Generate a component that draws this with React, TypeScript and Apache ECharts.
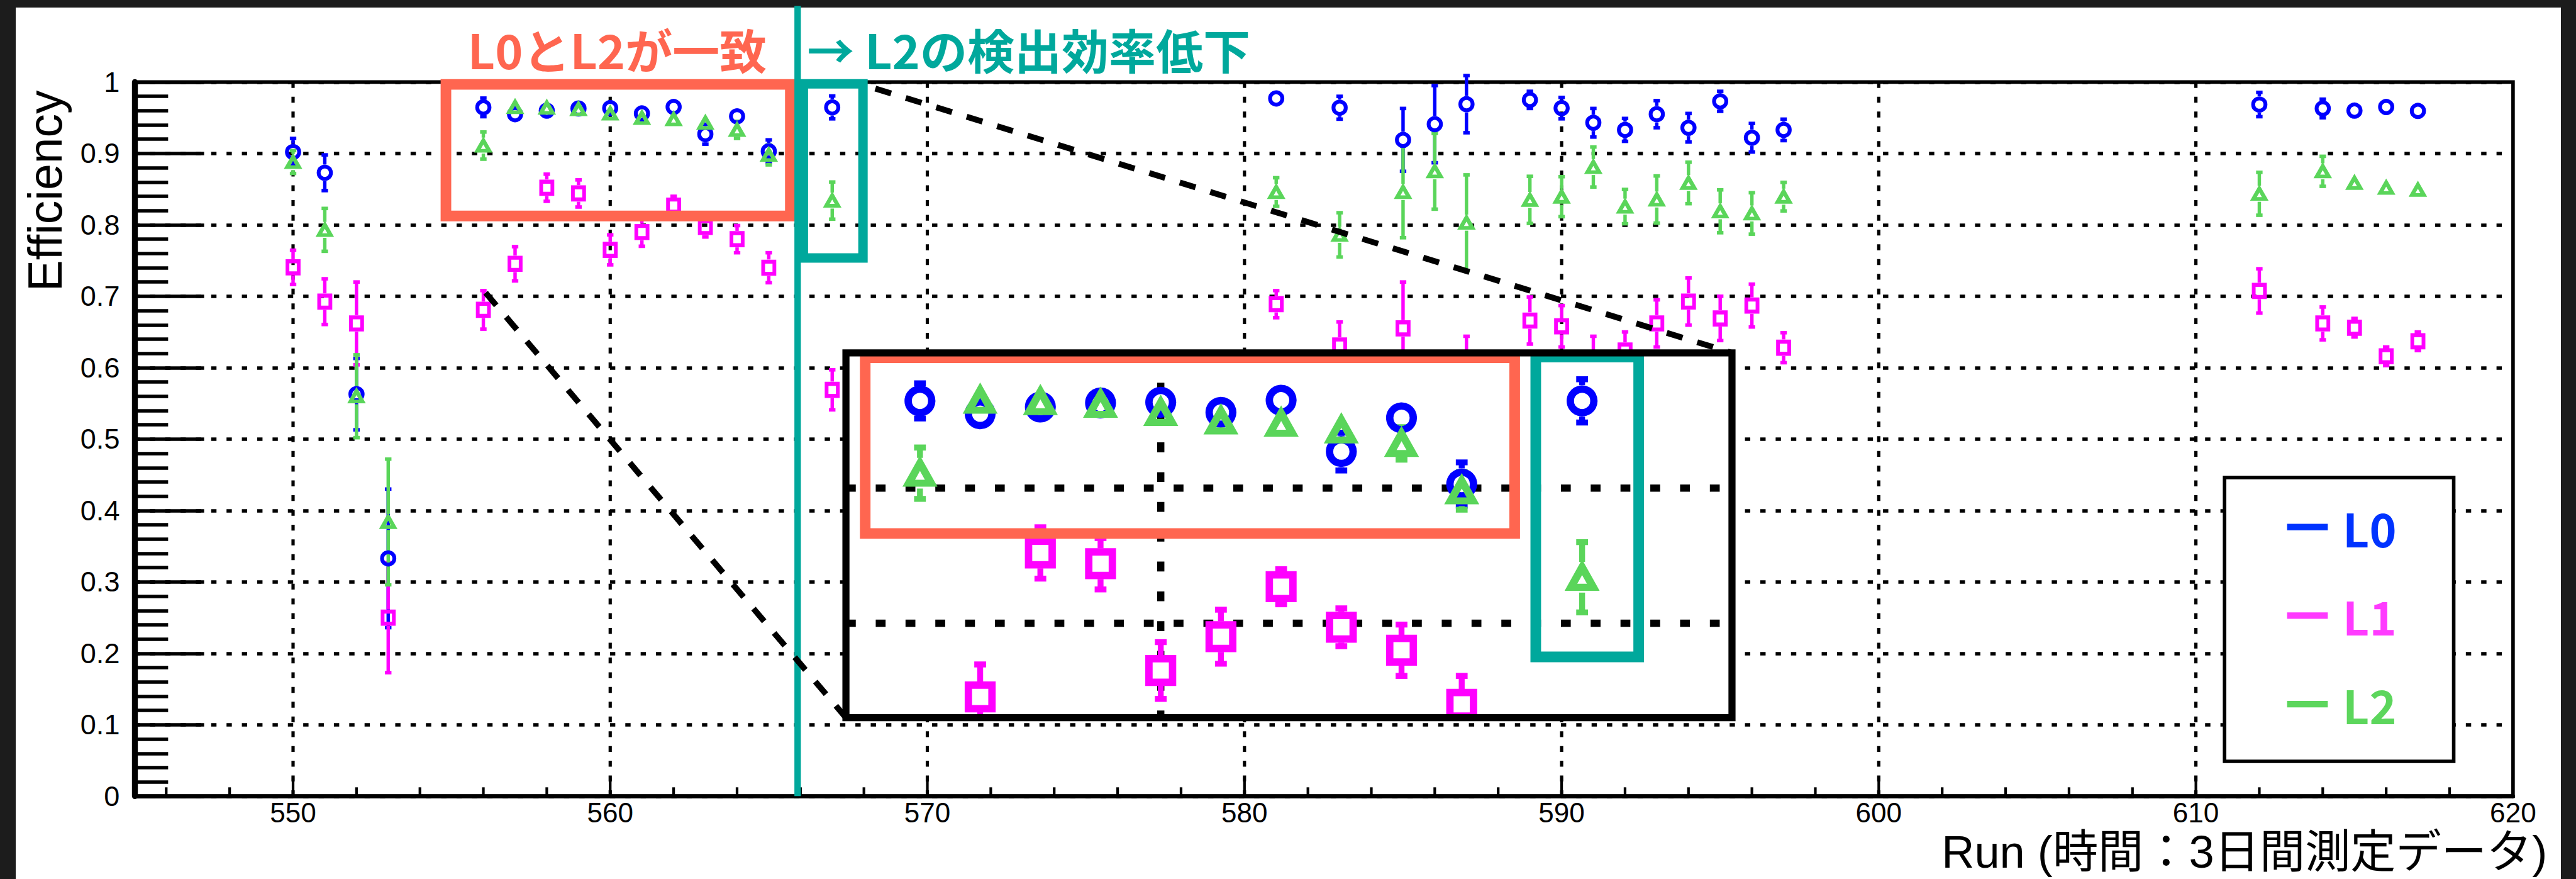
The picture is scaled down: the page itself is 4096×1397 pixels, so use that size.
import React, { useEffect, useRef } from 'react';
import * as echarts from 'echarts';

// ---------------- data ----------------
const runs = [550, 551, 552, 553, 556, 557, 558, 559, 560, 561, 562, 563, 564, 565, 567, 581, 583, 585, 586, 587, 589, 590, 591, 592, 593, 594, 595, 596, 597, 612, 614, 615, 616, 617];

const l0Eff = [0.902, 0.873, 0.563, 0.333, 0.9645, 0.955, 0.96, 0.963, 0.9635, 0.956, 0.965, 0.927, 0.952, 0.903, 0.9645, 0.977, 0.964, 0.919, 0.941, 0.969, 0.975, 0.9635, 0.943, 0.933, 0.955, 0.936, 0.973, 0.922, 0.933, 0.9685, 0.963, 0.96, 0.965, 0.9595];
const l0Err = [0.019, 0.025, 0.05, 0.097, 0.013, 0.009, 0.008, 0.008, 0.008, 0.008, 0.008, 0.014, 0.011, 0.016, 0.016, 0.006, 0.016, 0.044, 0.054, 0.04, 0.012, 0.015, 0.02, 0.016, 0.019, 0.02, 0.014, 0.02, 0.015, 0.017, 0.013, 0.006, 0.006, 0.006];

const l1Eff = [0.7405, 0.6925, 0.662, 0.25, 0.681, 0.7455, 0.852, 0.844, 0.765, 0.79, 0.827, 0.797, 0.78, 0.74, 0.569, 0.689, 0.631, 0.655, 0.57, 0.594, 0.666, 0.658, 0.609, 0.624, 0.662, 0.6926, 0.669, 0.687, 0.628, 0.7075, 0.662, 0.656, 0.616, 0.637];
const l1Err = [0.024, 0.032, 0.058, 0.077, 0.027, 0.024, 0.019, 0.019, 0.021, 0.02, 0.013, 0.014, 0.019, 0.021, 0.028, 0.019, 0.033, 0.065, 0.04, 0.05, 0.033, 0.029, 0.035, 0.026, 0.033, 0.033, 0.031, 0.03, 0.021, 0.031, 0.023, 0.013, 0.013, 0.013];

const l2Eff = [0.888, 0.793, 0.56, 0.384, 0.911, 0.965, 0.964, 0.962, 0.956, 0.9497, 0.948, 0.943, 0.933, 0.898, 0.834, 0.846, 0.786, 0.846, 0.875, 0.803, 0.835, 0.8395, 0.881, 0.8256, 0.8355, 0.8587, 0.819, 0.816, 0.8395, 0.8435, 0.875, 0.8587, 0.852, 0.849];
const l2Err = [0.016, 0.03, 0.058, 0.088, 0.019, 0.01, 0.009, 0.008, 0.008, 0.008, 0.008, 0.01, 0.012, 0.014, 0.026, 0.02, 0.031, 0.064, 0.053, 0.067, 0.033, 0.028, 0.028, 0.024, 0.033, 0.029, 0.03, 0.029, 0.02, 0.03, 0.021, 0.01, 0.01, 0.01];

const levelNames = ['L0', 'L1', 'L2'];
const xMajorTicks = [550, 560, 570, 580, 590, 600, 610, 620];
const xGridRuns = [550, 560, 570, 580, 590, 600, 610];
const insetGridRuns = [560];
const insetGridEffs = [0.8, 0.9];

const xTitle = 'Run (時間：3日間測定データ)';
const yTitle = 'Efficiency';
const noteMatch = 'L0とL2が一致';
const noteDrop = '→ L2の検出効率低下';

// axis ranges
const X_MIN = 545, X_MAX = 620;
const INSET_X = [554.77, 569.49];
const INSET_Y = [0.7301, 1.0];

// annotation regions, in data coordinates (run, efficiency)
const orangeMain = [[554.82, 0.9967], [565.68, 0.8124]];
const tealMain = [[566.09, 0.9975], [567.97, 0.7537]];
const tealLineRun = 565.91;
const tealLineTop = 1.1066;
const zoomSrcTopRight = [568.36, 0.9909];
const zoomSrcBottomLeft = [556.07, 0.705];
const orangeInset = [[555.09, 0.9965], [565.88, 0.8664]];
const tealInset = [[566.23, 0.997], [567.94, 0.7751]];

// ---------------- layout / style ----------------
const W = 4096, H = 1397, K = 0.938;
const s = (v: number) => v * K;

const BLUE = '#0000ff', MAGENTA = '#ff00ff', GREEN = '#5ad55a';
const ORANGE = '#ff6650', TEAL = '#00a89c';
const LATIN = '"Liberation Sans", Arial, Helvetica, sans-serif';
const LATIN_JP = '"Liberation Sans", "Noto Sans CJK JP", sans-serif';
const JP = '"Noto Sans CJK JP", "Noto Sans CJK SC", sans-serif';

const levelStyles = [
  { color: BLUE, legend: '#0033ff', symbol: 'circle', size: [20.8, 20.8], insetSize: [40, 40], half: 14, insetHalf: 26.5 },
  { color: MAGENTA, legend: '#ff3bff', symbol: 'rect', size: [19, 20.5], insetSize: [40, 40], half: 14, insetHalf: 26 },
  { color: GREEN, legend: '#5cd65c', symbol: 'triangle', size: [20, 17.5], insetSize: [38, 34], half: 13.5, insetHalf: 26 },
];
const levelData = [
  { eff: l0Eff, err: l0Err },
  { eff: l1Eff, err: l1Err },
  { eff: l2Eff, err: l2Err },
];

const makeErrorRender = (color: string, half: number, lw: number, capW: number, capH: number) =>
  (params: any, api: any) => {
    const x = api.value(0), y = api.value(1), e = api.value(2);
    const c = api.coord([x, y]);
    const hi = api.coord([x, y + e]);
    const lo = api.coord([x, y - e]);
    const children: any[] = [];
    if (c[1] - hi[1] > half) {
      children.push({ type: 'line', shape: { x1: c[0], y1: c[1] - half, x2: c[0], y2: hi[1] }, style: { stroke: color, lineWidth: lw } });
      children.push({ type: 'rect', shape: { x: c[0] - capW / 2, y: hi[1] - capH / 2, width: capW, height: capH }, style: { fill: color } });
    }
    if (lo[1] - c[1] > half) {
      children.push({ type: 'line', shape: { x1: c[0], y1: c[1] + half, x2: c[0], y2: lo[1] }, style: { stroke: color, lineWidth: lw } });
      children.push({ type: 'rect', shape: { x: c[0] - capW / 2, y: lo[1] - capH / 2, width: capW, height: capH }, style: { fill: color } });
    }
    return { type: 'group', children };
  };

function buildOption() {
  const series: any[] = [];

  // main vertical dashed grid lines
  series.push({
    type: 'custom', name: 'gridX', coordinateSystem: 'cartesian2d', xAxisIndex: 0, yAxisIndex: 0,
    z: 1, silent: true, clip: false,
    data: xGridRuns.map((r) => [r, 0]),
    renderItem: (params: any, api: any) => {
      const cs = params.coordSys;
      const x = api.coord([api.value(0), 0])[0];
      return { type: 'line', shape: { x1: x, y1: cs.y, x2: x, y2: cs.y + cs.height }, style: { stroke: '#000', lineWidth: s(5.5), lineDash: [s(10), s(15)] } };
    },
  });

  // x-axis ticks (major every 10, minor every 2)
  const tickData: number[][] = [];
  for (let r = 546; r <= 618; r += 2) tickData.push([r, 0, xMajorTicks.indexOf(r) >= 0 ? 1 : 0]);
  tickData.push([620, 0, 1]);
  series.push({
    type: 'custom', name: 'ticksX', coordinateSystem: 'cartesian2d', xAxisIndex: 0, yAxisIndex: 0,
    z: 3, silent: true, clip: false,
    data: tickData,
    renderItem: (params: any, api: any) => {
      const p = api.coord([api.value(0), 0]);
      const len = api.value(2) ? s(32) : s(15);
      return { type: 'line', shape: { x1: p[0], y1: p[1], x2: p[0], y2: p[1] - len }, style: { stroke: '#000', lineWidth: s(4.5) } };
    },
  });

  // inset grid lines
  const insetLines: number[][] = [];
  insetGridRuns.forEach((r) => insetLines.push([r, 0.9, 0]));
  insetGridEffs.forEach((v) => insetLines.push([INSET_X[0], v, 1]));
  series.push({
    type: 'custom', name: 'gridInset', coordinateSystem: 'cartesian2d', xAxisIndex: 1, yAxisIndex: 1,
    zlevel: 1, z: 1, silent: true, clip: false,
    data: insetLines,
    renderItem: (params: any, api: any) => {
      const cs = params.coordSys;
      const p = api.coord([api.value(0), api.value(1)]);
      const st = { stroke: '#000', lineWidth: s(12.3), lineDash: [s(16.7), s(33.8)] };
      if (api.value(2) === 0) return { type: 'line', shape: { x1: p[0], y1: cs.y, x2: p[0], y2: cs.y + cs.height }, style: st };
      return { type: 'line', shape: { x1: cs.x, y1: p[1], x2: cs.x + cs.width, y2: p[1] }, style: st };
    },
  });

  levelNames.forEach((name, li) => {
    const st = levelStyles[li];
    const d = levelData[li];
    const errData = runs.map((r, i) => [r, d.eff[i], d.err[i]]);
    const ptData = runs.map((r, i) => [r, d.eff[i]]);
    // main plot
    series.push({
      type: 'custom', name, coordinateSystem: 'cartesian2d', xAxisIndex: 0, yAxisIndex: 0,
      z: 2, silent: true, clip: false, data: errData,
      renderItem: makeErrorRender(st.color, s(st.half), s(5.8), s(11), s(6)),
    });
    series.push({
      type: 'scatter', name, xAxisIndex: 0, yAxisIndex: 0, z: 3, silent: true,
      symbol: st.symbol, symbolSize: [s(st.size[0]), s(st.size[1])],
      itemStyle: { color: 'rgba(0,0,0,0)', borderColor: st.color, borderWidth: s(6.6), opacity: 1 },
      data: ptData,
    });
    // magnified inset
    series.push({
      type: 'custom', name, coordinateSystem: 'cartesian2d', xAxisIndex: 1, yAxisIndex: 1,
      zlevel: 1, z: 2, silent: true, clip: true, data: errData,
      renderItem: makeErrorRender(st.color, s(st.insetHalf), s(10), s(20), s(10)),
    });
    series.push({
      type: 'scatter', name, xAxisIndex: 1, yAxisIndex: 1, zlevel: 1, z: 3, silent: true, clip: true,
      symbol: st.symbol, symbolSize: [s(st.insetSize[0]), s(st.insetSize[1])],
      itemStyle: { color: 'rgba(0,0,0,0)', borderColor: st.color, borderWidth: s(12.5), opacity: 1 },
      data: ptData,
    });
  });

  return {
    animation: false,
    backgroundColor: 'transparent',
    grid: [
      {
        left: s(228), top: s(139), right: W - s(4260), bottom: H - s(1349),
        show: true, borderColor: '#000', borderWidth: s(6), backgroundColor: 'transparent',
      },
      {
        left: s(1434), top: s(598), width: s(1502), height: s(618),
        show: true, backgroundColor: '#ffffff', borderWidth: 0, zlevel: 1, z: 0,
      },
    ],
    xAxis: [
      {
        gridIndex: 0, type: 'value', min: X_MIN, max: X_MAX, interval: 5,
        axisLine: { show: true, onZero: false, lineStyle: { color: '#000', width: s(7) } },
        axisTick: { show: false },
        splitLine: { show: false },
        axisLabel: {
          formatter: (v: number) => (xMajorTicks.indexOf(v) >= 0 ? String(v) : ''),
          fontSize: s(47), fontFamily: LATIN, color: '#000', margin: s(4),
        },
      },
      { gridIndex: 1, type: 'value', min: INSET_X[0], max: INSET_X[1], show: false, splitLine: { show: false } },
    ],
    yAxis: [
      {
        gridIndex: 0, type: 'value', min: 0, max: 1, interval: 0.1,
        axisLine: { show: true, onZero: false, lineStyle: { color: '#000', width: s(10) } },
        axisTick: { show: true, inside: true, length: s(118), lineStyle: { color: '#000', width: s(6) } },
        minorTick: { show: true, splitNumber: 5, length: s(57), lineStyle: { color: '#000', width: s(6) } },
        axisLabel: { fontSize: s(48), fontFamily: LATIN, color: '#000', margin: s(25) },
        splitLine: { show: true, lineStyle: { color: '#000', width: s(6), type: [s(9), s(17)] } },
      },
      { gridIndex: 1, type: 'value', min: INSET_Y[0], max: INSET_Y[1], show: false, splitLine: { show: false } },
    ],
    legend: {
      show: true, orient: 'vertical', left: s(3771), top: s(809),
      padding: [s(45), s(97), s(58), s(106)],
      itemGap: s(150) - s(78), itemWidth: s(69), itemHeight: s(11),
      backgroundColor: '#ffffff', borderColor: '#000', borderWidth: s(6), borderRadius: 0,
      selectedMode: false,
      textStyle: { fontFamily: JP, fontWeight: 'bold', fontSize: s(78), lineHeight: s(78), padding: [0, 0, 0, s(20)] },
      data: levelNames.map((n, i) => ({
        name: n, icon: 'rect',
        itemStyle: { color: levelStyles[i].legend, borderWidth: 0 },
        textStyle: { color: levelStyles[i].legend },
      })),
    },
    series,
  };
}

export default function App() {
  const ref = useRef<HTMLDivElement>(null);
  useEffect(() => {
    if (!ref.current) return;
    const chart = echarts.init(ref.current, null, { renderer: 'svg', width: W, height: H });
    chart.setOption(buildOption() as any);

    const d0 = (p: number[]) => chart.convertToPixel({ gridIndex: 0 } as any, p) as unknown as number[];
    const d1 = (p: number[]) => chart.convertToPixel({ gridIndex: 1 } as any, p) as unknown as number[];
    const rectOf = (a: number[], b: number[]) => ({
      x: Math.min(a[0], b[0]), y: Math.min(a[1], b[1]),
      width: Math.abs(b[0] - a[0]), height: Math.abs(b[1] - a[1]),
    });

    const insetTL = d1([INSET_X[0], INSET_Y[1]]);
    const insetTR = d1([INSET_X[1], INSET_Y[1]]);
    const insetBL = d1([INSET_X[0], INSET_Y[0]]);
    const insetBR = d1([INSET_X[1], INSET_Y[0]]);
    const srcTR = d0(zoomSrcTopRight);
    const srcBL = d0(zoomSrcBottomLeft);
    const tl0 = d0([tealLineRun, 0]);
    const tl1 = d0([tealLineRun, tealLineTop]);
    const dash = { stroke: '#000', lineWidth: s(10), lineDash: [s(28), s(26)], fill: 'none' };

    const elements: any[] = [
      { type: 'rect', zlevel: 0, z: 50, silent: true, shape: rectOf(d0(orangeMain[0]), d0(orangeMain[1])), style: { fill: 'none', stroke: ORANGE, lineWidth: s(18) } },
      { type: 'rect', zlevel: 0, z: 50, silent: true, shape: rectOf(d0(tealMain[0]), d0(tealMain[1])), style: { fill: 'none', stroke: TEAL, lineWidth: s(16) } },
      { type: 'line', zlevel: 0, z: 51, silent: true, shape: { x1: tl0[0], y1: tl0[1], x2: tl1[0], y2: tl1[1] }, style: { stroke: TEAL, lineWidth: s(11) } },
      { type: 'line', zlevel: 0, z: 52, silent: true, shape: { x1: srcTR[0], y1: srcTR[1], x2: insetTR[0], y2: insetTR[1] }, style: dash },
      { type: 'line', zlevel: 0, z: 52, silent: true, shape: { x1: srcBL[0], y1: srcBL[1], x2: insetBL[0], y2: insetBL[1] }, style: dash },
      { type: 'rect', zlevel: 1, z: 50, silent: true, shape: rectOf(d1(orangeInset[0]), d1(orangeInset[1])), style: { fill: 'none', stroke: ORANGE, lineWidth: s(18) } },
      { type: 'rect', zlevel: 1, z: 50, silent: true, shape: rectOf(d1(tealInset[0]), d1(tealInset[1])), style: { fill: 'none', stroke: TEAL, lineWidth: s(18) } },
      { type: 'rect', zlevel: 1, z: 60, silent: true, shape: rectOf(insetTL, insetBR), style: { fill: 'none', stroke: '#000', lineWidth: s(12) } },
      {
        type: 'text', zlevel: 0, z: 60, silent: true, x: s(793), y: s(83),
        style: { text: noteMatch, fill: ORANGE, fontFamily: JP, fontWeight: 'bold', fontSize: s(80), align: 'left', verticalAlign: 'middle' },
      },
      {
        type: 'text', zlevel: 0, z: 60, silent: true, x: s(1368), y: s(83),
        style: { text: noteDrop, fill: TEAL, fontFamily: JP, fontWeight: 'bold', fontSize: s(80), align: 'left', verticalAlign: 'middle' },
      },
      {
        type: 'text', zlevel: 0, z: 60, silent: true, x: s(77), y: s(153), rotation: Math.PI / 2,
        style: { text: yTitle, fill: '#000', fontFamily: LATIN, fontSize: s(80), align: 'right', verticalAlign: 'middle' },
      },
      {
        type: 'text', zlevel: 0, z: 60, silent: true, x: s(4318), y: s(1444),
        style: { text: xTitle, fill: '#000', fontFamily: LATIN_JP, fontSize: s(77), align: 'right', verticalAlign: 'middle' },
      },
    ];
    chart.setOption({ graphic: { elements } } as any);
    return () => chart.dispose();
  }, []);

  return (
    <div style={{ position: 'fixed', left: 0, top: 0, width: W, height: H, background: '#1c1c1c', overflow: 'hidden' }}>
      <div style={{ position: 'absolute', left: s(27), top: s(13), width: s(4341) - s(27), height: H - s(13), background: '#ffffff' }} />
      <div ref={ref} style={{ position: 'absolute', left: 0, top: 0, width: W, height: H }} />
    </div>
  );
}
